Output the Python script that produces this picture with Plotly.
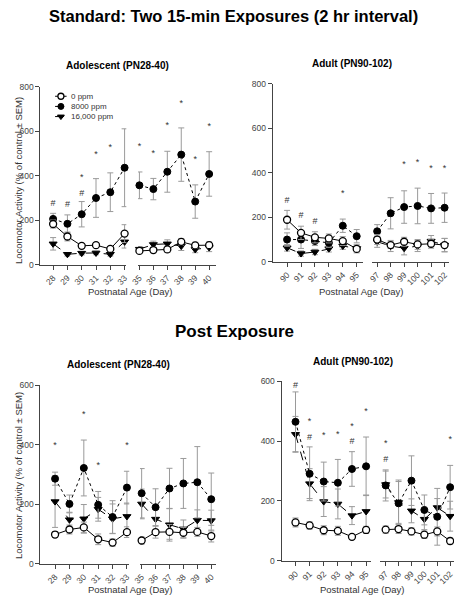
import plotly.graph_objects as go

W, H = 462, 600
OFF = 8  # the page body adds an 8 px margin; positions below are window pixels

# ---------------- data ----------------
ado_days_a = [28, 29, 30, 31, 32, 33]
ado_days_b = [35, 36, 37, 38, 39, 40]
adu_days_a = [90, 91, 92, 93, 94, 95]
adu_days_b = [97, 98, 99, 100, 101, 102]

# Standard exposure - adolescent
std_ado_ctrl = [183, 127, 85, 88, 71, 140, 62, 66, 69, 103, 87, 88]
std_ado_ctrl_err = [18, 20, 10, 12, 10, 40, 12, 12, 14, 15, 14, 15]
std_ado_8000 = [206, 184, 227, 300, 326, 436, 357, 340, 418, 495, 284, 408]
std_ado_8000_err = [25, 40, 57, 87, 87, 175, 60, 48, 92, 120, 75, 100]
std_ado_16000 = [94, 47, 52, 53, 47, 103, 70, 91, 94, 84, 69, 77]
std_ado_16000_err = [28, 8, 8, 8, 8, 28, 12, 15, 18, 20, 15, 18]

# Standard exposure - adult
std_adu_ctrl = [189, 130, 110, 105, 93, 58, 100, 75, 90, 78, 81, 75]
std_adu_ctrl_err = [42, 30, 25, 20, 20, 18, 22, 15, 20, 22, 20, 30]
std_adu_8000 = [100, 100, 93, 85, 162, 115, 137, 218, 246, 251, 240, 243]
std_adu_8000_err = [30, 40, 20, 20, 30, 30, 30, 70, 73, 80, 67, 66]
std_adu_16000 = [63, 37, 44, 59, 71, 60, 90, 71, 61, 71, 93, 75]
std_adu_16000_err = [15, 12, 12, 15, 15, 15, 25, 25, 30, 25, 25, 30]

# Post exposure - adolescent
post_ado_ctrl = [98, 115, 122, 82, 71, 106, 78, 106, 107, 104, 107, 93]
post_ado_ctrl_err = [10, 15, 18, 18, 12, 18, 12, 20, 25, 18, 15, 20]
post_ado_8000 = [286, 201, 322, 198, 157, 256, 237, 190, 253, 270, 274, 217]
post_ado_8000_err = [22, 30, 94, 45, 55, 55, 83, 62, 68, 84, 120, 88]
post_ado_16000 = [209, 148, 151, 183, 151, 159, 201, 150, 131, 117, 146, 145]
post_ado_16000_err = [87, 25, 48, 40, 50, 45, 50, 35, 55, 30, 35, 35]

# Post exposure - adult
post_adu_ctrl = [128, 118, 102, 100, 80, 103, 104, 106, 98, 87, 98, 66]
post_adu_ctrl_err = [15, 12, 15, 15, 8, 12, 12, 15, 12, 12, 15, 10]
post_adu_8000 = [465, 291, 265, 261, 307, 316, 252, 192, 268, 170, 147, 246]
post_adu_8000_err = [100, 90, 65, 78, 58, 98, 52, 78, 83, 50, 95, 73]
post_adu_16000 = [423, 258, 198, 190, 151, 165, 255, 195, 167, 139, 178, 149]
post_adu_16000_err = [60, 50, 50, 50, 30, 55, 45, 70, 40, 35, 30, 50]

# significance markers (day, height, symbol)
sig_std_ado_x = [28, 29, 30, 30, 31, 32, 35, 36, 37, 38, 39, 40]
sig_std_ado_y = [275, 270, 320, 393, 496, 526, 530, 501, 625, 725, 472, 619]
sig_std_ado_t = ["#", "#", "#", "*", "*", "*", "*", "*", "*", "*", "*", "*"]

sig_std_adu_x = [90, 91, 92, 94, 99, 100, 101, 102]
sig_std_adu_y = [274, 208, 181, 306, 434, 443, 417, 417]
sig_std_adu_t = ["#", "#", "#", "*", "*", "*", "*", "*"]

sig_post_ado_x = [28, 30, 31, 33]
sig_post_ado_y = [396, 501, 328, 396]
sig_post_ado_t = ["*", "*", "*", "*"]

sig_post_adu_x = [90, 90, 91, 91, 92, 93, 94, 94, 95, 97, 97, 102]
sig_post_adu_y = [642, 587, 466, 411, 417, 422, 450, 397, 499, 390, 337, 406]
sig_post_adu_t = ["*", "#", "*", "#", "*", "*", "*", "#", "*", "*", "#", "*"]

series_names = ["0 ppm", "8000 ppm", "16,000 ppm"]
legend_rows = [0, 1, 2]
y_title = "Locomotor Activity (% of control \u00b1 SEM)"
x_title = "Postnatal Age (Day)"

# ---------------- layout helpers ----------------
FONT = "Liberation Sans, Arial, sans-serif"


def px_x(p):
    return (p - OFF) / W


def px_y(p):
    return 1 - (p - OFF) / H


def xd(a, b):
    return [px_x(a), px_x(b)]


def yd(top, bottom):
    return [px_y(bottom), px_y(top)]


fig = go.Figure()

styles = [
    dict(symbol="circle", color="white", line=dict(color="black", width=1.3), dash="solid"),
    dict(symbol="circle", color="black", line=dict(color="black", width=1), dash="dot"),
    dict(symbol="triangle-down", color="black", line=dict(color="black", width=1), dash="dash"),
]

panels = [
    ((std_ado_ctrl, std_ado_8000, std_ado_16000),
     (std_ado_ctrl_err, std_ado_8000_err, std_ado_16000_err),
     ado_days_a, ado_days_b, "x", "x2", "y",
     (sig_std_ado_x, sig_std_ado_y, sig_std_ado_t)),
    ((std_adu_ctrl, std_adu_8000, std_adu_16000),
     (std_adu_ctrl_err, std_adu_8000_err, std_adu_16000_err),
     adu_days_a, adu_days_b, "x3", "x4", "y2",
     (sig_std_adu_x, sig_std_adu_y, sig_std_adu_t)),
    ((post_ado_ctrl, post_ado_8000, post_ado_16000),
     (post_ado_ctrl_err, post_ado_8000_err, post_ado_16000_err),
     ado_days_a, ado_days_b, "x5", "x6", "y3",
     (sig_post_ado_x, sig_post_ado_y, sig_post_ado_t)),
    ((post_adu_ctrl, post_adu_8000, post_adu_16000),
     (post_adu_ctrl_err, post_adu_8000_err, post_adu_16000_err),
     adu_days_a, adu_days_b, "x7", "x8", "y4",
     (sig_post_adu_x, sig_post_adu_y, sig_post_adu_t)),
]

for series, errs, da, db, xa, xb, ya, sig in panels:
    n = len(da)
    for k in [2, 1, 0]:
        st = styles[k]
        vals, ev = series[k], errs[k]
        for seg, (days, xax) in enumerate([(da, xa), (db, xb)]):
            sl = slice(0, n) if seg == 0 else slice(n, 2 * n)
            fig.add_trace(go.Scatter(
                x=days, y=vals[sl], xaxis=xax, yaxis=ya,
                mode="lines+markers", name=series_names[k], showlegend=False,
                line=dict(color="black", width=1, dash=st["dash"]),
                marker=dict(symbol=st["symbol"], size=7, color=st["color"], line=st["line"]),
                error_y=dict(type="data", array=ev[sl], color="#9a9a9a", thickness=1, width=3),
                cliponaxis=False,
            ))
    sx, sy, stt = sig
    for seg, (days, xax) in enumerate([(da, xa), (db, xb)]):
        idx = [i for i, d in enumerate(sx) if d in days]
        fig.add_trace(go.Scatter(
            x=[sx[i] for i in idx], y=[sy[i] for i in idx], text=[stt[i] for i in idx],
            xaxis=xax, yaxis=ya, mode="text", showlegend=False, hoverinfo="skip",
            textfont=dict(family=FONT, size=9, color="#333"), cliponaxis=False,
        ))

# compact hand-made legend on its own hidden axes
for k in range(3):
    st = styles[k]
    r = legend_rows[k]
    fig.add_trace(go.Scatter(x=[0, 2], y=[r, r], xaxis="x9", yaxis="y5", mode="lines",
                             line=dict(color="black", width=1, dash=st["dash"]),
                             showlegend=False, hoverinfo="skip"))
    fig.add_trace(go.Scatter(x=[1], y=[r], xaxis="x9", yaxis="y5", mode="markers",
                             marker=dict(symbol=st["symbol"], size=6, color=st["color"], line=st["line"]),
                             showlegend=False, hoverinfo="skip"))

axis_common = dict(showgrid=False, zeroline=False, showline=True, linecolor="#444", linewidth=1,
                   ticks="outside", ticklen=4, tickwidth=1, tickcolor="#444",
                   tickfont=dict(family=FONT, size=8.5, color="#444"))

layout = dict(
    width=W, height=H, margin=dict(l=0, r=0, t=0, b=0),
    paper_bgcolor="white", plot_bgcolor="white",
    font=dict(family=FONT, color="black"),
    showlegend=False,
)

xdefs = [
    ("xaxis", (33, 121), [27.11, 33.12], ado_days_a, "y"),
    ("xaxis2", (133, 213), [34.9, 40.5], ado_days_b, "y"),
    ("xaxis3", (271, 363), [88.97, 95.42], adu_days_a, "y2"),
    ("xaxis4", (373, 452), [96.64, 102.36], adu_days_b, "y2"),
    ("xaxis5", (33, 124), [26.98, 33.16], ado_days_a, "y3"),
    ("xaxis6", (135, 213), [34.88, 40.35], ado_days_b, "y3"),
    ("xaxis7", (280, 372), [89.01, 95.37], adu_days_a, "y4"),
    ("xaxis8", (381, 460), [96.57, 102.55], adu_days_b, "y4"),
]
for name, (a, b), rng, ticks, anc in xdefs:
    layout[name] = dict(domain=xd(a, b), range=rng, tickvals=ticks,
                        ticktext=[str(t) for t in ticks], tickangle=-45,
                        anchor=anc, **axis_common)

ydefs = [
    ("yaxis", (83, 264), [0, 800], [0, 200, 400, 600, 800], "x"),
    ("yaxis2", (80, 261), [0, 800], [0, 200, 400, 600, 800], "x3"),
    ("yaxis3", (386.7, 568), [0, 600], [0, 200, 400, 600], "x5"),
    ("yaxis4", (382.7, 565), [0, 600], [0, 200, 400, 600], "x7"),
]
for name, (t, b), rng, ticks, anc in ydefs:
    layout[name] = dict(domain=yd(t, b), range=rng, tickvals=ticks, anchor=anc, **axis_common)

# legend axes
layout["xaxis9"] = dict(domain=xd(48, 60), range=[0, 2], visible=False, anchor="y5")
layout["yaxis5"] = dict(domain=yd(87.5, 118.5), range=[2.5, -0.5], visible=False, anchor="x9")

fig.update_layout(**layout)


def ann(text, px, py, size, bold=False, angle=0, color="black", xanchor="center"):
    fig.add_annotation(text=f"<b>{text}</b>" if bold else text,
                       x=px_x(px), y=px_y(py), xref="paper", yref="paper",
                       showarrow=False, textangle=angle,
                       font=dict(family=FONT, size=size, color=color),
                       xanchor=xanchor, yanchor="middle")


for k in range(3):
    fig.add_annotation(text=series_names[k], x=px_x(62), y=legend_rows[k], xref="paper", yref="y5",
                       showarrow=False, xanchor="left", yanchor="middle",
                       font=dict(family=FONT, size=8, color="#333"))

ann("Standard: Two 15-min Exposures (2 hr interval)", 231, 11, 16.5, bold=True)
ann("Post Exposure", 232, 332, 17, bold=True)
ann("Adolescent (PN28-40)", 112, 61, 10, bold=True)
ann("Adult (PN90-102)", 352, 59, 10, bold=True)
ann("Adolescent (PN28-40)", 113, 365, 10, bold=True)
ann("Adult (PN90-102)", 353, 362, 10, bold=True)
ann(y_title, 10, 178, 9.5, angle=-90, color="#333")
ann(y_title, 10, 478, 9.5, angle=-90, color="#333")
ann(x_title, 125, 291, 9.5, color="#333")
ann(x_title, 362, 291, 9.5, color="#333")
ann(x_title, 125, 594, 9.5, color="#333")
ann(x_title, 363, 594, 9.5, color="#333")

fig.write_html("out.html")
